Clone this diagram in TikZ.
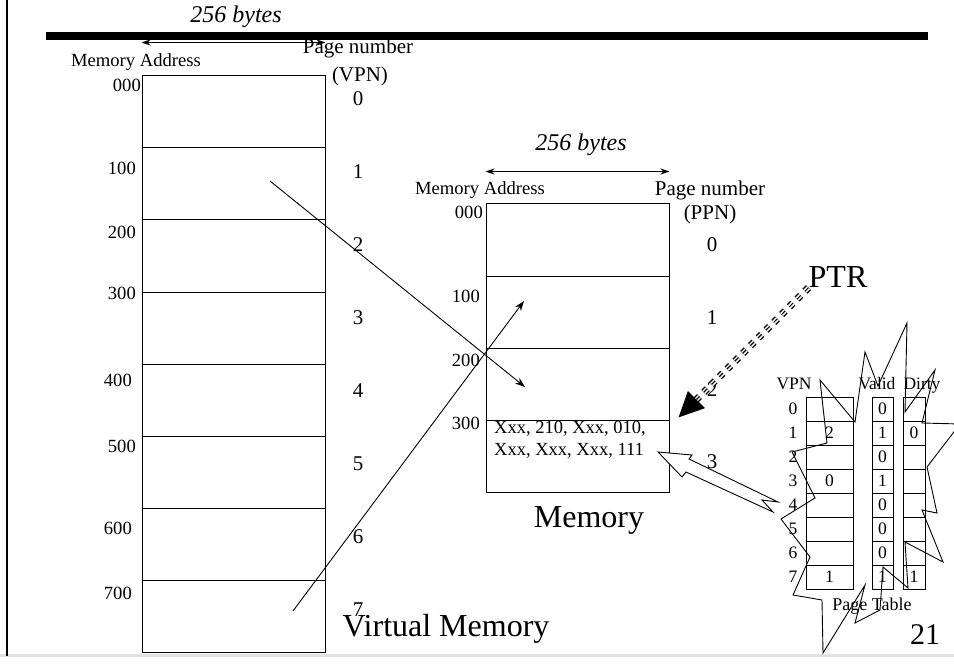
\documentclass[tikz,border=0pt]{standalone}
\usepackage{fontspec}
\setmainfont{Liberation Serif}
\usepackage{tikz}
\usetikzlibrary{arrows.meta}
\definecolor{ink}{HTML}{000000}
\definecolor{slideedge}{HTML}{E2E2E2}
\tikzset{
  vcell/.style={draw=ink, line width=1pt, minimum width=183pt, minimum height=72pt, inner sep=0pt},
  ptcell/.style={draw=ink, line width=1pt, fill=white, minimum width=#1, minimum height=24pt, inner sep=0pt,
                 font=\fontsize{17.5}{20}\selectfont},
  addr/.style={font=\fontsize{18.6}{20}\selectfont, inner sep=0pt, anchor=east},
  num/.style={font=\fontsize{21}{24}\selectfont, inner sep=0pt},
  ptxt/.style={font=\fontsize{17.5}{20}\selectfont, inner sep=0pt},
  bytes/.style={font=\itshape\fontsize{24}{28}\selectfont, inner sep=0pt},
  big/.style={font=\fontsize{32}{36}\selectfont, inner sep=0pt},
  span/.style={{Stealth[length=9pt,width=6pt]}-{Stealth[length=9pt,width=6pt]}, line width=1pt, draw=ink},
  flow/.style={-{Stealth[length=10pt,width=7pt]}, line width=0.9pt, draw=ink},
  ptrflow/.style={line width=7pt, dash pattern=on 5pt off 6pt, draw=ink,
                  -{Triangle[length=26pt,width=22pt]},
                  postaction={draw=white, line width=4.2pt, dash pattern=on 5pt off 6pt, -, shorten >=26pt},
                  postaction={draw=ink, line width=1.2pt, dash pattern=on 5pt off 6pt, -, shorten >=26pt}},
  burst/.style={draw=ink, line width=0.9pt, line join=miter}
}

\begin{document}
\begin{tikzpicture}[x=1pt,y=-1pt]
  \useasboundingbox (0,0) rectangle (954,666);
  % slide frame
  \draw[slideedge, line width=3pt] (0,655) -- (954,655);
  \draw[ink, line width=2.5pt] (7,0) -- (7,656);
  \fill[ink] (46,32) rectangle (928,40);

  % virtual memory
  \node[bytes] (vbytes) at (236,17) {256 bytes};
  \node[ptxt, font=\fontsize{18.6}{20}\selectfont] (vaddr) at (136,62) {Memory Address};
  \node[num] (vpnhead) at (358,48) {Page number};
  \node[num] (vpnsub) at (360,76) {(VPN)};
  \foreach \i in {0,...,7}
    \node[vcell] (v\i) at (233.5,{112+72*\i}) {};
  \foreach \a/\x/\y in {000/141/85, 100/136/168, 200/136/232, 300/136/293,
                        400/132/380, 500/136/446, 600/132/528, 700/132/593}
    \node[addr] (va\a) at (\x,\y) {\a};
  \foreach \i in {0,...,7}
    \node[num] (vn\i) at (358,{99+73*\i}) {\i};
  \draw[span] ([yshift=33pt]v0.north west) -- ([yshift=33pt]v0.north east);
  \node[big] (vmem) at (446,629) {Virtual Memory};

  % physical memory
  \node[bytes] (mbytes) at (581,145) {256 bytes};
  \node[ptxt, font=\fontsize{18.6}{20}\selectfont] (maddr) at (480,190) {Memory Address};
  \node[num] (ppnhead) at (710,190) {Page number};
  \node[num] (ppnsub) at (710,214) {(PPN)};
  \foreach \i in {0,...,3}
    \node[vcell] (m\i) at (577.5,{240+72*\i}) {};
  \foreach \a/\x/\y in {000/483/212, 100/480/296, 200/480/360, 300/480/423}
    \node[addr] (ma\a) at (\x,\y) {\a};
  \foreach \i/\y in {0/245, 1/318, 2/390, 3/462}
    \node[num] (pn\i) at (712,\y) {\i};
  \draw[span] ([yshift=32pt]m0.north west) -- ([yshift=32pt]m0.north east);
  \node[ptxt, font=\fontsize{18.5}{22}\selectfont, align=left, anchor=north west]
    (mtext) at (494,421) {Xxx, 210, Xxx, 010,\\Xxx, Xxx, Xxx, 111};
  \node[big] (pmem) at (589,520) {Memory};

  % page table
  \node[ptxt, anchor=base] (hvpn) at (794,389) {VPN};
  \node[ptxt, anchor=base] (hvalid) at (877,389) {Valid};
  \node[ptxt, anchor=base] (hdirty) at (922,389) {Dirty};
  \foreach \i/\p/\v/\d in {0//0/, 1/2/1/0, 2//0/, 3/0/1/, 4//0/, 5//0/, 6//0/, 7/1/1/1} {
    \node[ptxt] (pr\i) at (793,{409+24*\i}) {\i};
    \node[ptcell=47pt] (pv\i) at (829.5,{409+24*\i}) {\p};
    \node[ptcell=21pt] (pva\i) at (882.5,{409+24*\i}) {\v};
    \node[ptcell=22pt] (pd\i) at (914,{409+24*\i}) {\d};
  }
  \node[ptxt, font=\fontsize{18}{20}\selectfont] (ptab) at (872,606) {Page Table};
  \node[big, font=\fontsize{30}{34}\selectfont] (slideno) at (925,635) {21};

  % burst round the page table
  \draw[burst] (820,380) -- (855,422) -- (865,352) -- (878,386) -- (907,323) -- (905,412)
    -- (935,370) -- (922,423) -- (960,424) -- (927,467) -- (937,513) -- (922,510)
    -- (943,562) -- (905,542) -- (908,588) -- (883,567) -- (880,610) -- (855,623)
    -- (865,585) -- (823,653) -- (822,600) -- (793,595) -- (810,557) -- (781,519)
    -- (815,498) -- (792,452) -- (827,443) -- cycle;
  % hollow arrow into memory
  \draw[burst, fill=white] (658,452) -- (692,455) -- (689,459) -- (778,502) -- (762,500)
    -- (773,512) -- (686,472) -- (682,477) -- cycle;

  % translations
  \coordinate (vsrc1) at (270,181);
  \coordinate (mdst2) at (525,387);
  \coordinate (vsrc7) at (293,611);
  \coordinate (mdst1) at (524,301);
  \draw[flow] (vsrc1) -- (mdst2);
  \draw[flow] (vsrc7) -- (mdst1);

  % page table register
  \node[big] (ptr) at (838,277) {PTR};
  \coordinate (ptrend) at (678,418);
  \draw[ptrflow] (ptr.south west) -- (ptrend);
\end{tikzpicture}
\end{document}
